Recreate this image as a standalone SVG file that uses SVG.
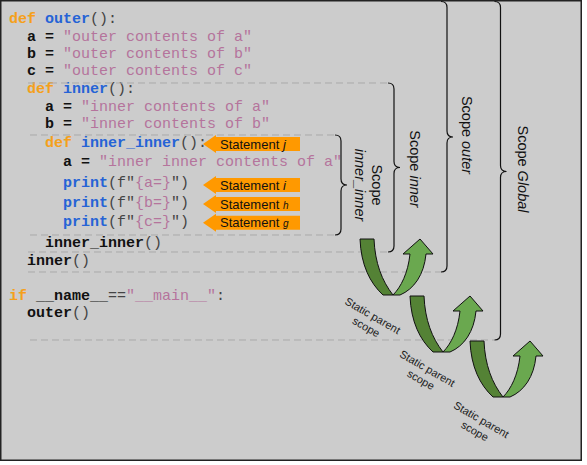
<svg xmlns="http://www.w3.org/2000/svg" width="587" height="465" viewBox="0 0 587 465">
<defs>
<style>
.code{font-family:"Liberation Mono","Courier New",monospace;font-size:15px;white-space:pre;fill:#444}
.kw{fill:#f5a01a;font-weight:bold}
.fn{fill:#2563d6;font-weight:bold}
.v{fill:#111;font-weight:bold}
.s{fill:#b5749c}
.p{fill:#444}
.dash{stroke:#a9a9a9;stroke-width:1;stroke-dasharray:7 4;fill:none}
.brace{stroke:#111;stroke-width:1.2;fill:none}
.lbl{font-family:"Liberation Sans",Arial,sans-serif;font-size:14.5px;fill:#111;text-anchor:middle}
.st{font-family:"Liberation Sans",Arial,sans-serif;font-size:13px;fill:#111}
.sp{font-family:"Liberation Sans",Arial,sans-serif;font-size:11px;fill:#222;text-anchor:middle}
.orange{fill:#ff9900}
.dk{fill:#548235;stroke:#111;stroke-width:1}
.lt{fill:#6aa84f;stroke:#111;stroke-width:1}
</style>
<polygon id="oarrow" points="203,0 216,-9 216,-7 300,-7 300,7 216,7 216,9"/>
<g id="uarrow">
<path class="dk" d="M0,0 H14 C15,24 22,42 33,56 H23 C10,44 1,26 0,0 Z"/>
<path class="lt" d="M33,56 C41,48 48,34 50,15 H43 L60,0 L73,15 H66 C64,36 54,50 40,56 Z"/>
</g>
</defs>
<rect x="0" y="0" width="587" height="465" fill="#ffffff"/>
<rect x="0.75" y="0.75" width="580.5" height="459.5" fill="#cccccc" stroke="#222" stroke-width="1.5"/>

<g id="code">
<text class="code" x="9" y="23"><tspan class="kw">def</tspan> <tspan class="fn">outer</tspan><tspan class="p">():</tspan></text>
<text class="code" x="27" y="40.7"><tspan class="v">a = </tspan><tspan class="s">"outer contents of a"</tspan></text>
<text class="code" x="27" y="57.7"><tspan class="v">b = </tspan><tspan class="s">"outer contents of b"</tspan></text>
<text class="code" x="27" y="75"><tspan class="v">c = </tspan><tspan class="s">"outer contents of c"</tspan></text>
<text class="code" x="27" y="93"><tspan class="kw">def</tspan> <tspan class="fn">inner</tspan><tspan class="p">():</tspan></text>
<text class="code" x="45" y="111"><tspan class="v">a = </tspan><tspan class="s">"inner contents of a"</tspan></text>
<text class="code" x="45" y="128"><tspan class="v">b = </tspan><tspan class="s">"inner contents of b"</tspan></text>
<text class="code" x="45" y="146.5"><tspan class="kw">def</tspan> <tspan class="fn">inner_inner</tspan><tspan class="p">():</tspan></text>
<text class="code" x="63" y="166.3"><tspan class="v">a = </tspan><tspan class="s">"inner inner contents of a"</tspan></text>
<text class="code" x="63" y="187.3"><tspan class="fn">print</tspan><tspan class="p">(f"</tspan><tspan class="s">{a=}</tspan><tspan class="p">")</tspan></text>
<text class="code" x="63" y="206.7"><tspan class="fn">print</tspan><tspan class="p">(f"</tspan><tspan class="s">{b=}</tspan><tspan class="p">")</tspan></text>
<text class="code" x="63" y="226.3"><tspan class="fn">print</tspan><tspan class="p">(f"</tspan><tspan class="s">{c=}</tspan><tspan class="p">")</tspan></text>
<text class="code" x="45" y="247.3"><tspan class="v">inner_inner</tspan><tspan class="p">()</tspan></text>
<text class="code" x="27" y="264.5"><tspan class="v">inner</tspan><tspan class="p">()</tspan></text>
<text class="code" x="9" y="299.7"><tspan class="kw">if</tspan> <tspan class="v">__name__</tspan><tspan class="p">==</tspan><tspan class="s">"__main__"</tspan><tspan class="p">:</tspan></text>
<text class="code" x="27" y="317.3"><tspan class="v">outer</tspan><tspan class="p">()</tspan></text>
</g>

<g id="connectors">
<line class="dash" x1="28" y1="83" x2="388" y2="83"/>
<line class="dash" x1="30" y1="135" x2="335" y2="135"/>
<line class="dash" x1="30" y1="235" x2="335" y2="235"/>
<line class="dash" x1="28" y1="252" x2="388" y2="252"/>
<line class="dash" x1="28" y1="272" x2="441" y2="272"/>
<line class="dash" x1="30" y1="340" x2="494.5" y2="340"/>
<path class="brace" d="M335,135 Q341,135 341,141 V179 Q341,185 347,185 Q341,185 341,191 V229 Q341,235 335,235"/>
<path class="brace" d="M388,83 Q394,83 394,89 V161.5 Q394,167.5 400,167.5 Q394,167.5 394,173.5 V246 Q394,252 388,252"/>
<path class="brace" d="M441,1.5 Q447,1.5 447,7.5 V131 Q447,137 453,137 Q447,137 447,143 V266 Q447,272 441,272"/>
<path class="brace" d="M494.5,1.5 Q500.5,1.5 500.5,7.5 V165.5 Q500.5,171.5 506.5,171.5 Q500.5,171.5 500.5,177.5 V334 Q500.5,340 494.5,340"/>
</g>

<g id="scope-inner-inner" transform="translate(368,185) rotate(90)">
<text class="lbl" x="0" y="-3.5">Scope</text>
<text class="lbl" x="0" y="13" font-style="italic">inner_inner</text>
</g>
<g id="scope-inner" transform="translate(415,169) rotate(90)">
<text class="lbl" x="0" y="5">Scope <tspan font-style="italic">inner</tspan></text>
</g>
<g id="scope-outer" transform="translate(466.5,135) rotate(90)">
<text class="lbl" x="0" y="5">Scope <tspan font-style="italic">outer</tspan></text>
</g>
<g id="scope-global" transform="translate(523,169) rotate(90)">
<text class="lbl" x="0" y="5">Scope <tspan font-style="italic">Global</tspan></text>
</g>

<g id="statement-j">
<use href="#oarrow" class="orange" transform="translate(0,144)"/>
<text class="st" x="220" y="148.5">Statement <tspan font-style="italic">j</tspan></text>
</g>
<g id="statement-i">
<use href="#oarrow" class="orange" transform="translate(0,185)"/>
<text class="st" x="220" y="189.5">Statement <tspan font-style="italic">i</tspan></text>
</g>
<g id="statement-h">
<use href="#oarrow" class="orange" transform="translate(0,204)"/>
<text class="st" x="220" y="208.5">Statement <tspan font-style="italic" font-size="10px">h</tspan></text>
</g>
<g id="statement-g">
<use href="#oarrow" class="orange" transform="translate(0,222.7)"/>
<text class="st" x="220" y="227">Statement <tspan font-style="italic" font-size="10px">g</tspan></text>
</g>

<g id="parent-arrow-1">
<use href="#uarrow" transform="translate(360,239)"/>
<g transform="translate(372.8,315.5) rotate(30)"><text class="sp" x="0" y="4">Static parent</text><text class="sp" x="0" y="17">scope</text></g>
</g>
<g id="parent-arrow-2">
<use href="#uarrow" transform="translate(410,296)"/>
<g transform="translate(427.5,368.3) rotate(30)"><text class="sp" x="0" y="4">Static parent</text><text class="sp" x="0" y="17">scope</text></g>
</g>
<g id="parent-arrow-3">
<use href="#uarrow" transform="translate(470,341)"/>
<g transform="translate(481.5,419.5) rotate(30)"><text class="sp" x="0" y="4">Static parent</text><text class="sp" x="0" y="17">scope</text></g>
</g>
</svg>
